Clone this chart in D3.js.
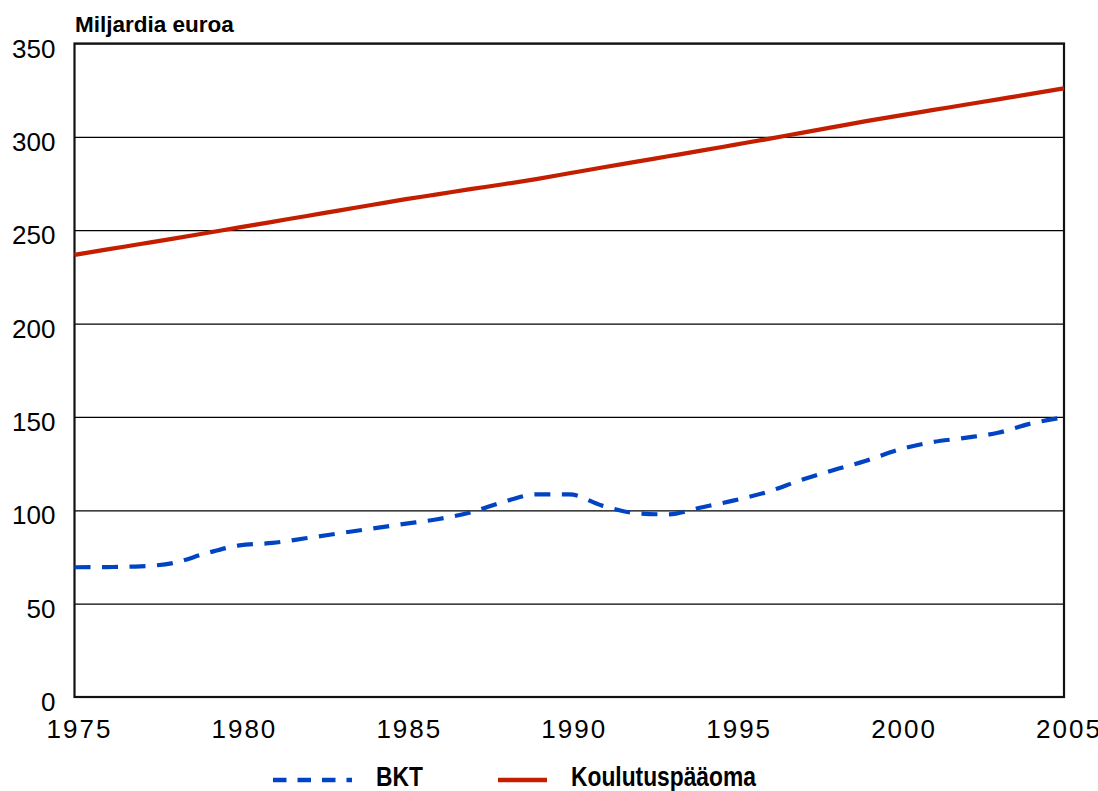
<!DOCTYPE html>
<html>
<head>
<meta charset="utf-8">
<script src="https://cdn.jsdelivr.net/npm/d3@7"></script>
<style>
  html, body { margin: 0; padding: 0; background: #fff; }
  svg { display: block; font-family: "Liberation Sans", Arial, sans-serif; }
</style>
</head>
<body>
<svg id="chart" width="1098" height="791"></svg>
<script>
// Years on the x axis
const years = d3.range(1975, 2006);

// BKT (GDP), billions of euros
const bkt = [69.5, 69.6, 70.0, 71.8, 77.0, 81.2, 82.5, 85.0, 87.6, 90.2,
             92.7, 95.2, 98.8, 104.5, 108.5, 108.5, 102.5, 98.5, 97.8, 101.5,
             105.3, 109.8, 116.0, 121.5, 126.5, 132.5, 136.5, 138.8, 141.5, 146.5,
             149.8];

// Koulutuspääoma (education capital), billions of euros
const koulutus = [236.8, 239.7, 242.6, 245.5, 248.5, 251.5, 254.5, 257.5, 260.5, 263.5,
                  266.5, 269.2, 272.0, 274.6, 277.4, 280.5, 283.6, 286.6, 289.6, 292.6,
                  295.7, 298.8, 302.0, 305.2, 308.4, 311.4, 314.3, 317.2, 320.1, 323.0,
                  326.0];

const yTicks = [0, 50, 100, 150, 200, 250, 300, 350];
const xTicks = [1975, 1980, 1985, 1990, 1995, 2000, 2005];

const seriesNames = ["BKT", "Koulutuspääoma"];
const seriesColors = ["#0044c4", "#c41e00"];

const svg = d3.select("#chart");

const plotLeft = 74.5, plotRight = 1064, plotTop = 43.5, plotBottom = 697;

const x = d3.scaleLinear().domain([1975, 2005]).range([plotLeft, plotRight]);
const y = d3.scaleLinear().domain([0, 350]).range([plotBottom, plotTop]);

// Horizontal gridlines and y tick labels
const yAxis = svg.append("g")
  .attr("transform", `translate(${plotLeft},0)`)
  .call(d3.axisLeft(y).tickValues(yTicks).tickSize(-(plotRight - plotLeft)).tickPadding(19));
yAxis.select(".domain").remove();
yAxis.selectAll(".tick line").attr("stroke", "#000").attr("stroke-width", 1.2);
yAxis.selectAll(".tick text")
  .attr("fill", "#000")
  .attr("font-size", 26)
  .attr("font-family", "'Liberation Sans', Arial, sans-serif")
  .attr("dy", "0.52em");

// X tick labels
const xAxis = svg.append("g")
  .attr("transform", `translate(4.5,${plotBottom})`)
  .call(d3.axisBottom(x).tickValues(xTicks).tickFormat(d3.format("d")).tickSize(0).tickPadding(22.5));
xAxis.select(".domain").remove();
xAxis.selectAll(".tick text")
  .attr("fill", "#000")
  .attr("font-size", 26)
  .attr("letter-spacing", 2)
  .attr("font-family", "'Liberation Sans', Arial, sans-serif");

// Plot frame
svg.append("rect")
  .attr("x", plotLeft).attr("y", plotTop)
  .attr("width", plotRight - plotLeft).attr("height", plotBottom - plotTop)
  .attr("fill", "none")
  .attr("stroke", "#111")
  .attr("stroke-width", 2.2);

// Lines
const line = d3.line()
  .x((d, i) => x(years[i]))
  .y(d => y(d))
  .curve(d3.curveMonotoneX);

svg.append("path")
  .datum(koulutus)
  .attr("fill", "none")
  .attr("stroke", seriesColors[1])
  .attr("stroke-width", 4.2)
  .attr("d", line);

svg.append("path")
  .datum(bkt)
  .attr("fill", "none")
  .attr("stroke", seriesColors[0])
  .attr("stroke-width", 4.2)
  .attr("stroke-dasharray", "16,11.5")
  .attr("d", line);

// Axis title
svg.append("text")
  .attr("x", 75).attr("y", 31.5)
  .attr("font-size", 22.5)
  .attr("font-weight", "bold")
  .attr("fill", "#000")
  .text("Miljardia euroa");

// Legend (text drawn slightly tall)
const legendY = 780;
const legendBase = 785.5;
svg.append("line")
  .attr("x1", 273).attr("x2", 352)
  .attr("y1", legendY).attr("y2", legendY)
  .attr("stroke", seriesColors[0])
  .attr("stroke-width", 4.6)
  .attr("stroke-dasharray", "13.5,11");
svg.append("text")
  .attr("transform", `translate(376,${legendBase}) scale(1,1.2)`)
  .attr("font-size", 22.8).attr("font-weight", "bold").attr("fill", "#000")
  .text(seriesNames[0]);

svg.append("line")
  .attr("x1", 498).attr("x2", 547)
  .attr("y1", legendY).attr("y2", legendY)
  .attr("stroke", seriesColors[1])
  .attr("stroke-width", 4.6);
svg.append("text")
  .attr("transform", `translate(571,${legendBase}) scale(1,1.2)`)
  .attr("font-size", 22.8).attr("font-weight", "bold").attr("fill", "#000")
  .text(seriesNames[1]);
</script>
</body>
</html>
